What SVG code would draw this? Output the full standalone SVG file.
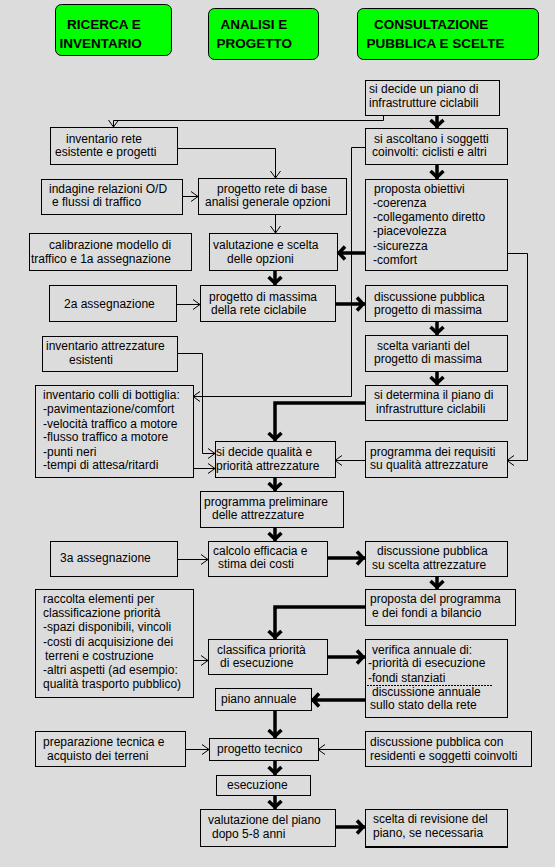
<svg xmlns="http://www.w3.org/2000/svg" width="555" height="867" viewBox="0 0 555 867">
<defs>
<style>
.bg{fill:#dcdcdc}
.box{fill:none;stroke:#000;stroke-width:1}
.hdr{fill:#00ff00;stroke:#000;stroke-width:1}
.t{font-family:"Liberation Sans",Arial,sans-serif;font-size:12px;fill:#000}
.h{font-family:"Liberation Sans",Arial,sans-serif;font-size:13.5px;font-weight:bold;fill:#000}
.thin{fill:none;stroke:#000;stroke-width:1;marker-end:url(#a)}
.thinx{fill:none;stroke:#000;stroke-width:1}
.thick{fill:none;stroke:#000;stroke-width:3.5;marker-end:url(#b)}
.thickx{fill:none;stroke:#000;stroke-width:3.5}
</style>
<marker id="a" markerUnits="userSpaceOnUse" markerWidth="20" markerHeight="20" viewBox="-10 -10 20 20" refX="0" refY="0" orient="auto">
<path d="M-7,-5 L0,0 L-7,5" fill="none" stroke="#000" stroke-width="1"/>
</marker>
<marker id="b" markerUnits="userSpaceOnUse" markerWidth="26" markerHeight="26" viewBox="-13 -13 26 26" refX="0" refY="0" orient="auto">
<path d="M-8,-6.5 L-2,0 L-8,6.5" fill="none" stroke="#000" stroke-width="3.5"/>
</marker>
</defs>
<rect class="bg" x="0" y="0" width="555" height="867"/>

<g id="h1"><rect class="hdr" x="55.5" y="4.5" width="116" height="51" rx="6"/><text class="h"><tspan x="67" y="29">RICERCA E</tspan><tspan x="59.5" y="48">INVENTARIO</tspan></text></g>
<g id="h2"><rect class="hdr" x="208.5" y="8.5" width="110" height="51" rx="6"/><text class="h"><tspan x="220.5" y="29">ANALISI E</tspan><tspan x="216.5" y="48">PROGETTO</tspan></text></g>
<g id="h3"><rect class="hdr" x="357.5" y="8.5" width="181" height="51" rx="6"/><text class="h"><tspan x="374" y="29">CONSULTAZIONE</tspan><tspan x="366.5" y="48">PUBBLICA E SCELTE</tspan></text></g>

<g id="connectors">
<polyline class="thin" points="383.5,115 383.5,120.5 113.5,120.5 113.5,127"/>
<line class="thick" x1="437" y1="115" x2="437" y2="128"/>
<polyline class="thin" points="177,148.5 275.5,148.5 275.5,178"/>
<line class="thin" x1="182" y1="196.5" x2="198" y2="196.5"/>
<line class="thin" x1="275.5" y1="214" x2="275.5" y2="233"/>
<line class="thick" x1="437" y1="164" x2="437" y2="179"/>
<line class="thick" x1="365" y1="253" x2="337" y2="253"/>
<polyline class="thin" points="507,253.5 527.5,253.5 527.5,460.5 507,460.5"/>
<polyline class="thin" points="365,147.5 351.5,147.5 351.5,396.5 193,396.5"/>
<line class="thick" x1="275" y1="270" x2="275" y2="285"/>
<line class="thin" x1="176" y1="304.5" x2="200" y2="304.5"/>
<line class="thick" x1="335" y1="304" x2="365" y2="304"/>
<line class="thick" x1="437" y1="321" x2="437" y2="335"/>
<line class="thick" x1="437" y1="371" x2="437" y2="385"/>
<polyline class="thick" points="365,403 275,403 275,441"/>
<line class="thin" x1="365" y1="460.5" x2="335" y2="460.5"/>
<polyline class="thin" points="177,353.5 202.5,353.5 202.5,453.5 215,453.5"/>
<line class="thin" x1="193" y1="468.5" x2="215" y2="468.5"/>
<line class="thick" x1="275" y1="477" x2="275" y2="491"/>
<line class="thick" x1="275" y1="527" x2="275" y2="541"/>
<line class="thin" x1="177" y1="559.5" x2="208" y2="559.5"/>
<line class="thick" x1="327" y1="558" x2="365" y2="558"/>
<line class="thick" x1="437" y1="576" x2="437" y2="589"/>
<polyline class="thick" points="365,607 275,607 275,639"/>
<line class="thin" x1="193" y1="660.5" x2="208" y2="660.5"/>
<line class="thick" x1="327" y1="657" x2="365" y2="657"/>
<line class="thick" x1="365" y1="700" x2="311" y2="700"/>
<line class="thick" x1="275" y1="710" x2="275" y2="738"/>
<line class="thin" x1="185" y1="749.5" x2="209" y2="749.5"/>
<line class="thin" x1="365" y1="749.5" x2="318" y2="749.5"/>
<line class="thick" x1="275" y1="760" x2="275" y2="775"/>
<line class="thick" x1="275" y1="795" x2="275" y2="809"/>
<line class="thick" x1="335" y1="827" x2="365" y2="827"/>
</g>

<g id="n1"><rect class="box" x="365.5" y="80.5" width="134" height="35"/><text class="t"><tspan x="369" y="93">si decide un piano di</tspan><tspan x="369" y="107">infrastrutture ciclabili</tspan></text></g>
<g id="n2"><rect class="box" x="50.5" y="127.5" width="127" height="37"/><text class="t"><tspan x="66" y="143">inventario rete</tspan><tspan x="55" y="156">esistente e progetti</tspan></text></g>
<g id="n3"><rect class="box" x="365.5" y="128.5" width="142" height="36"/><text class="t"><tspan x="374" y="143">si ascoltano i soggetti</tspan><tspan x="372" y="156">coinvolti: ciclisti e altri</tspan></text></g>
<g id="n4"><rect class="box" x="41.5" y="179.5" width="141" height="35"/><text class="t"><tspan x="49" y="193">indagine relazioni O/D</tspan><tspan x="52" y="206">e flussi di traffico</tspan></text></g>
<g id="n5"><rect class="box" x="198.5" y="178.5" width="148" height="36"/><text class="t"><tspan x="217" y="193">progetto rete di base</tspan><tspan x="205" y="206">analisi generale opzioni</tspan></text></g>
<g id="n6"><rect class="box" x="365.5" y="179.5" width="142" height="91"/><text class="t"><tspan x="374" y="193">proposta obiettivi</tspan><tspan x="373" y="207">-coerenza</tspan><tspan x="373" y="221">-collegamento diretto</tspan><tspan x="373" y="235">-piacevolezza</tspan><tspan x="373" y="250">-sicurezza</tspan><tspan x="373" y="264">-comfort</tspan></text></g>
<g id="n7"><rect class="box" x="29.5" y="233.5" width="162" height="37"/><text class="t"><tspan x="49" y="249">calibrazione modello di</tspan><tspan x="31" y="263">traffico e 1a assegnazione</tspan></text></g>
<g id="n8"><rect class="box" x="209.5" y="233.5" width="128" height="37"/><text class="t"><tspan x="213" y="249">valutazione e scelta</tspan><tspan x="227" y="263">delle opzioni</tspan></text></g>
<g id="n9"><rect class="box" x="49.5" y="285.5" width="127" height="36"/><text class="t"><tspan x="64" y="308">2a assegnazione</tspan></text></g>
<g id="n10"><rect class="box" x="200.5" y="285.5" width="135" height="36"/><text class="t"><tspan x="209" y="301">progetto di massima</tspan><tspan x="211" y="314">della rete ciclabile</tspan></text></g>
<g id="n11"><rect class="box" x="365.5" y="285.5" width="142" height="36"/><text class="t"><tspan x="374" y="301">discussione pubblica</tspan><tspan x="374" y="314">progetto di massima</tspan></text></g>
<g id="n12"><rect class="box" x="365.5" y="335.5" width="142" height="36"/><text class="t"><tspan x="377" y="350">scelta varianti del</tspan><tspan x="374" y="363">progetto di massima</tspan></text></g>
<g id="n13"><rect class="box" x="42.5" y="336.5" width="135" height="35"/><text class="t"><tspan x="46" y="350">inventario attrezzature</tspan><tspan x="69" y="364">esistenti</tspan></text></g>
<g id="n14"><rect class="box" x="365.5" y="385.5" width="142" height="35"/><text class="t"><tspan x="374" y="399">si determina il piano di</tspan><tspan x="376" y="413">infrastrutture ciclabili</tspan></text></g>
<g id="n15"><rect class="box" x="35.5" y="385.5" width="158" height="92"/><text class="t"><tspan x="43" y="399">inventario colli di bottiglia:</tspan><tspan x="43" y="413">-pavimentazione/comfort</tspan><tspan x="43" y="428">-velocità traffico a motore</tspan><tspan x="43" y="441">-flusso traffico a motore</tspan><tspan x="43" y="456">-punti neri</tspan><tspan x="43" y="469">-tempi di attesa/ritardi</tspan></text></g>
<g id="n16"><rect class="box" x="215.5" y="441.5" width="120" height="36"/><text class="t"><tspan x="216" y="456">si decide qualità e</tspan><tspan x="216" y="470">priorità attrezzature</tspan></text></g>
<g id="n17"><rect class="box" x="365.5" y="441.5" width="142" height="36"/><text class="t"><tspan x="370" y="456">programma dei requisiti</tspan><tspan x="370" y="469">su qualità attrezzature</tspan></text></g>
<g id="n18"><rect class="box" x="200.5" y="491.5" width="143" height="36"/><text class="t"><tspan x="204" y="506">programma preliminare</tspan><tspan x="212" y="519">delle attrezzature</tspan></text></g>
<g id="n19"><rect class="box" x="50.5" y="541.5" width="127" height="35"/><text class="t"><tspan x="60" y="562">3a assegnazione</tspan></text></g>
<g id="n20"><rect class="box" x="208.5" y="541.5" width="119" height="35"/><text class="t"><tspan x="213" y="555">calcolo efficacia e</tspan><tspan x="218" y="568">stima dei costi</tspan></text></g>
<g id="n21"><rect class="box" x="365.5" y="541.5" width="142" height="35"/><text class="t"><tspan x="377" y="555">discussione pubblica</tspan><tspan x="372" y="569">su scelta attrezzature</tspan></text></g>
<g id="n22"><rect class="box" x="365.5" y="589.5" width="150" height="36"/><text class="t"><tspan x="370" y="603">proposta del programma</tspan><tspan x="372" y="617">e dei fondi a bilancio</tspan></text></g>
<g id="n23"><rect class="box" x="35.5" y="589.5" width="158" height="108"/><text class="t"><tspan x="43" y="603">raccolta elementi per</tspan><tspan x="43" y="617">classificazione priorità</tspan><tspan x="43" y="631">-spazi disponibili, vincoli</tspan><tspan x="43" y="646">-costi di acquisizione dei</tspan><tspan x="45" y="660">terreni e costruzione</tspan><tspan x="43" y="674">-altri aspetti (ad esempio:</tspan><tspan x="43" y="688">qualità trasporto pubblico)</tspan></text></g>
<g id="n24"><rect class="box" x="208.5" y="639.5" width="119" height="35"/><text class="t"><tspan x="217" y="654">classifica priorità</tspan><tspan x="220" y="667">di esecuzione</tspan></text></g>
<g id="n25"><rect class="box" x="365.5" y="639.5" width="142" height="78"/><line x1="367" y1="685.5" x2="493" y2="685.5" stroke="#000" stroke-width="1" stroke-dasharray="2,1"/><text class="t"><tspan x="372" y="654">verifica annuale di:</tspan><tspan x="368" y="667">-priorità di esecuzione</tspan><tspan x="368" y="682">-fondi stanziati</tspan><tspan x="372" y="696">discussione annuale</tspan><tspan x="370" y="709">sullo stato della rete</tspan></text></g>
<g id="n26"><rect class="box" x="215.5" y="688.5" width="96" height="22"/><text class="t"><tspan x="221" y="703">piano annuale</tspan></text></g>
<g id="n27"><rect class="box" x="35.5" y="731.5" width="150" height="35"/><text class="t"><tspan x="43" y="746">preparazione tecnica e</tspan><tspan x="47" y="760">acquisto dei terreni</tspan></text></g>
<g id="n28"><rect class="box" x="209.5" y="738.5" width="109" height="22"/><text class="t"><tspan x="217" y="753">progetto tecnico</tspan></text></g>
<g id="n29"><rect class="box" x="365.5" y="731.5" width="166" height="35"/><text class="t"><tspan x="370" y="746">discussione pubblica con</tspan><tspan x="370" y="760">residenti e soggetti coinvolti</tspan></text></g>
<g id="n30"><rect class="box" x="216.5" y="775.5" width="94" height="20"/><text class="t"><tspan x="227" y="789">esecuzione</tspan></text></g>
<g id="n31"><rect class="box" x="200.5" y="809.5" width="135" height="37"/><text class="t"><tspan x="208" y="824">valutazione del piano</tspan><tspan x="212" y="838">dopo 5-8 anni</tspan></text></g>
<g id="n32"><rect class="box" x="365.5" y="809.5" width="142" height="37"/><line x1="365" y1="847" x2="508" y2="847" stroke="#000" stroke-width="2"/><text class="t"><tspan x="373" y="823">scelta di revisione del</tspan><tspan x="373" y="837">piano, se necessaria</tspan></text></g>
</svg>
